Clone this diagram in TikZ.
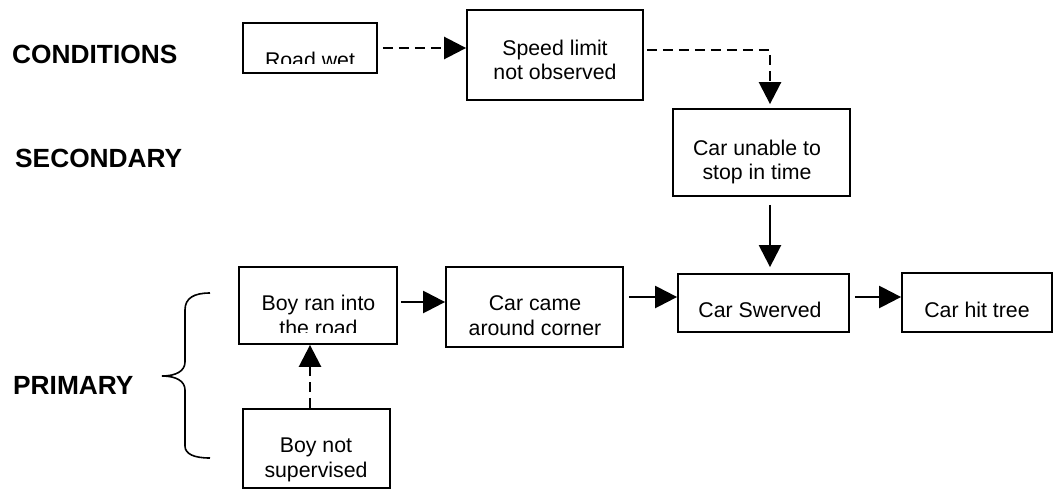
\documentclass[tikz,border=0pt]{standalone}
\usepackage{fontspec}
\setmainfont{Liberation Sans}
\usetikzlibrary{arrows.meta}

\begin{document}
\begin{tikzpicture}[x=1pt,y=-1pt,
  box/.style={draw=black, line width=1.8pt, inner sep=0pt, fill=none},
  boxtext/.style={inner sep=0pt, align=center, font=\fontsize{21.3}{24}\selectfont},
  level/.style={inner sep=0pt, anchor=base west, font=\fontsize{26.3}{30}\selectfont\bfseries},
  solidlink/.style={line width=2.4pt, -{Triangle[length=22pt,width=22pt]}},
  dashlink/.style={line width=2.6pt, dash pattern=on 10pt off 6pt, -{Triangle[length=22pt,width=22pt]}}
]
\path[use as bounding box] (0,0) rectangle (1059,490);

% category labels on the left
\node[level] (lcond) at (12,63) {CONDITIONS};
\node[level] (lsec)  at (15,167) {SECONDARY};
\node[level] (lprim) at (13,394) {PRIMARY};

% brace grouping the primary causes
\draw[line width=1.6pt] (210,293) .. controls (194,293) and (185,298) .. (185,310)
  -- (185,362) .. controls (185,371) and (176,376) .. (162,376)
  .. controls (176,376) and (185,381) .. (185,390)
  -- (185,446) .. controls (185,454) and (194,458) .. (210,458);

% boxes
\node[box, minimum width=134pt, minimum height=50pt] (roadwet) at (310,48) {};
\node[box, minimum width=176pt, minimum height=90pt] (speed)   at (555,55) {};
\node[box, minimum width=177pt, minimum height=87pt] (unable)  at (761.5,152.5) {};
\node[box, minimum width=171pt, minimum height=58pt] (swerved) at (763.5,303) {};
\node[box, minimum width=150pt, minimum height=59pt] (hittree) at (977,302.5) {};
\node[box, minimum width=158pt, minimum height=77pt] (boyran)  at (318,305.5) {};
\node[box, minimum width=177pt, minimum height=80pt] (carcame) at (534.5,307) {};
\node[box, minimum width=147pt, minimum height=79pt] (boynot)  at (316.5,448.5) {};

% box texts (some are cut off by the frame's inner margin)
\begin{scope}
  \clip ([xshift=2pt,yshift=-2pt]roadwet.north west) rectangle ([xshift=-2pt,yshift=10pt]roadwet.south east);
  \node[boxtext, anchor=base] (troadwet) at (310,67) {Road wet};
\end{scope}
\node[boxtext, anchor=base] (tspeed1) at (555,55) {Speed limit};
\node[boxtext, anchor=base] (tspeed2) at (555,79) {not observed};
\node[boxtext, anchor=base] (tunable1) at (757,155) {Car unable to};
\node[boxtext, anchor=base] (tunable2) at (757,179) {stop in time};
\node[boxtext, anchor=base] (tswerved) at (760,317) {Car Swerved};
\node[boxtext, anchor=base] (thittree) at (977,317) {Car hit tree};
\node[boxtext, anchor=base] (tboyran1) at (318.5,310) {Boy ran into};
\begin{scope}
  \clip ([xshift=2pt,yshift=-2pt]boyran.north west) rectangle ([xshift=-2pt,yshift=12pt]boyran.south east);
  \node[boxtext, anchor=base] (tboyran2) at (318.5,335) {the road};
\end{scope}
\node[boxtext, anchor=base] (tcarcame1) at (535,310) {Car came};
\node[boxtext, anchor=base] (tcarcame2) at (535,335) {around corner};
\node[boxtext, anchor=base] (tboynot1) at (316,452) {Boy not};
\node[boxtext, anchor=base] (tboynot2) at (316,477) {supervised};

% connectors
\draw[dashlink, shorten <=5pt] (roadwet.east) -- (roadwet.east -| speed.west);
\draw[dashlink, shorten <=3pt, shorten >=4pt]
  ([yshift=5pt]speed.east) -| ([xshift=8.5pt]unable.north);
\draw[solidlink, shorten <=8pt, shorten >=6pt]
  ([xshift=8.5pt]unable.south) -- ([xshift=8.5pt]unable.south |- swerved.north);
\draw[solidlink, shorten <=3pt]
  ([yshift=3.5pt]boyran.east) -- ([yshift=3.5pt]boyran.east -| carcame.west);
\draw[solidlink, shorten <=5pt]
  ([yshift=10pt]carcame.east) -- ([yshift=10pt]carcame.east -| swerved.west);
\draw[solidlink, shorten <=5pt]
  ([yshift=6pt]swerved.east) -- ([yshift=6pt]swerved.east -| hittree.west);
\draw[dashlink]
  ([xshift=-6.5pt]boynot.north) -- ([xshift=-6.5pt]boynot.north |- boyran.south);
\end{tikzpicture}
\end{document}
